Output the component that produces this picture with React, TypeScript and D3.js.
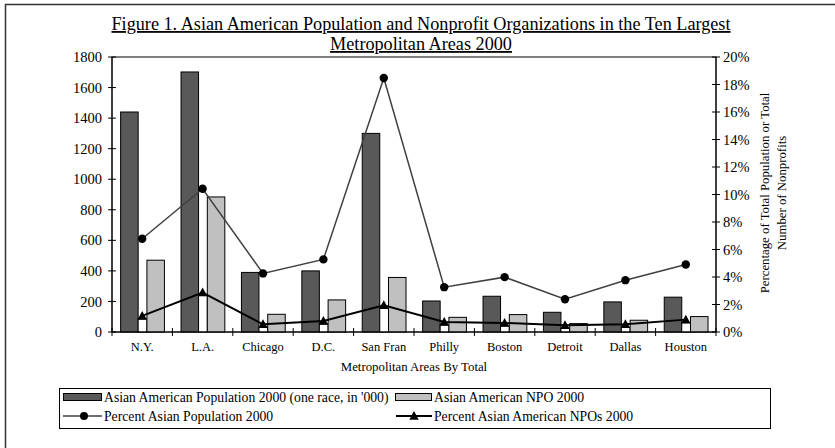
import React from "react";
import * as d3 from "d3";

const categories = ["N.Y.", "L.A.", "Chicago", "D.C.", "San Fran", "Philly", "Boston", "Detroit", "Dallas", "Houston"];
const asianPop = [1440, 1702, 390, 400, 1300, 203, 234, 129, 197, 228];
const asianNPO = [470, 884, 116, 210, 357, 96, 114, 55, 77, 101];
const pctAsianPop = [6.78, 10.42, 4.26, 5.28, 18.47, 3.26, 3.99, 2.38, 3.77, 4.91];
const pctAsianNPO = [1.17, 2.87, 0.56, 0.8, 1.95, 0.73, 0.66, 0.49, 0.56, 0.9];
const leftTicks = [0, 200, 400, 600, 800, 1000, 1200, 1400, 1600, 1800];
const rightTicks = [0, 2, 4, 6, 8, 10, 12, 14, 16, 18, 20];

const W = 835, H = 448;
const M = { left: 112, right: 716, top: 57, bottom: 332 };
const FONT = "'Liberation Serif', 'Times New Roman', serif";

export default function App() {
  const x = d3.scaleBand<string>().domain(categories).range([M.left, M.right]).padding(0);
  const yL = d3.scaleLinear().domain([0, 1800]).range([M.bottom, M.top]);
  const yR = d3.scaleLinear().domain([0, 20]).range([M.bottom, M.top]);
  const bw = x.bandwidth();
  const barW = bw * 0.29;
  const off1 = bw * 0.143;
  const midW = bw * 0.145;
  const cx = (c: string) => (x(c) as number) + bw / 2;

  const popLine = d3.line<number>().x((_, i) => cx(categories[i])).y((d) => yR(d));
  const npoLine = d3.line<number>().x((_, i) => cx(categories[i])).y((d) => yR(d));

  const tri = (px: number, py: number, s: number) =>
    `M${px},${py - s} L${px + s * 0.95},${py + s * 0.75} L${px - s * 0.95},${py + s * 0.75} Z`;

  return (
    <svg width={W} height={H} style={{ position: "absolute", left: 0, top: 0, background: "#fff" }} fontFamily={FONT}>
      <rect x={0} y={0} width={W} height={H} fill="#fff" />
      <rect x={5.5} y={4.5} width={W + 20} height={H + 20} fill="none" stroke="#333" strokeWidth={1.5} />
      {/* Title */}
      <text x={421} y={30} textAnchor="middle" fontSize={18.2} textDecoration="underline">
        Figure 1. Asian American Population and Nonprofit Organizations in the Ten Largest
      </text>
      <text x={421} y={50} textAnchor="middle" fontSize={18.2} textDecoration="underline">
        Metropolitan Areas 2000
      </text>
      {/* plot border */}
      <rect x={M.left} y={M.top} width={M.right - M.left} height={M.bottom - M.top} fill="none" stroke="#000" strokeWidth={1} />
      {/* bars */}
      {categories.map((c, i) => {
        const x0 = x(c) as number;
        return (
          <g key={c}>
            <rect x={x0 + off1} y={yL(asianPop[i])} width={barW} height={M.bottom - yL(asianPop[i])} fill="#595959" stroke="#000" strokeWidth={1} />
            <rect x={x0 + off1 + barW} y={yR(pctAsianNPO[i]) + 3} width={midW} height={M.bottom - yR(pctAsianNPO[i]) - 3} fill="#fff" stroke="#000" strokeWidth={1} />
            <rect x={x0 + off1 + barW + midW} y={yL(asianNPO[i])} width={barW} height={M.bottom - yL(asianNPO[i])} fill="#c0c0c0" stroke="#000" strokeWidth={1} />
          </g>
        );
      })}
      {/* left axis */}
      <line x1={M.left} x2={M.left} y1={M.top} y2={M.bottom} stroke="#000" />
      {leftTicks.map((t) => (
        <g key={t}>
          <line x1={M.left - 4} x2={M.left + 4} y1={yL(t)} y2={yL(t)} stroke="#000" />
          <text x={M.left - 10} y={yL(t)} dy="0.35em" textAnchor="end" fontSize={14.5}>{t}</text>
        </g>
      ))}
      {/* right axis */}
      <line x1={M.right} x2={M.right} y1={M.top} y2={M.bottom} stroke="#000" />
      {rightTicks.map((t) => (
        <g key={t}>
          <line x1={M.right - 4} x2={M.right + 4} y1={yR(t)} y2={yR(t)} stroke="#000" />
          <text x={M.right + 7} y={yR(t)} dy="0.35em" textAnchor="start" fontSize={14.5}>{t + "%"}</text>
        </g>
      ))}
      {/* x axis */}
      <line x1={M.left} x2={M.right} y1={M.bottom} y2={M.bottom} stroke="#000" />
      {categories.map((c) => (
        <line key={"t" + c} x1={x(c) as number} x2={x(c) as number} y1={M.bottom - 4} y2={M.bottom + 4} stroke="#000" />
      ))}
      <line x1={M.right} x2={M.right} y1={M.bottom - 4} y2={M.bottom + 4} stroke="#000" />
      {categories.map((c) => (
        <text key={"l" + c} x={cx(c)} y={347} dy="0.35em" textAnchor="middle" fontSize={12.5}>{c}</text>
      ))}
      <text x={(M.left + M.right) / 2} y={367} dy="0.35em" textAnchor="middle" fontSize={12.8}>Metropolitan Areas By Total</text>
      {/* right axis title */}
      <g transform={`translate(765, 193) rotate(-90)`}>
        <text x={0} y={0} textAnchor="middle" fontSize={12.8} dy="0.35em">Percentage of Total Population or Total</text>
        <text x={0} y={16.5} textAnchor="middle" fontSize={12.8} dy="0.35em">Number of Nonprofits</text>
      </g>
      {/* lines */}
      <path d={popLine(pctAsianPop) || ""} fill="none" stroke="#404040" strokeWidth={1.5} />
      {pctAsianPop.map((v, i) => (
        <circle key={"c" + i} cx={cx(categories[i])} cy={yR(v)} r={4.2} fill="#000" />
      ))}
      <path d={npoLine(pctAsianNPO) || ""} fill="none" stroke="#000" strokeWidth={2} />
      {pctAsianNPO.map((v, i) => (
        <path key={"tr" + i} d={tri(cx(categories[i]), yR(v), 5)} fill="#000" />
      ))}
      {/* legend */}
      <rect x={59.5} y={388.5} width={711} height={40} fill="#fff" stroke="#000" strokeWidth={1} />
      <rect x={63.5} y={393.5} width={38} height={7} fill="#595959" stroke="#000" />
      <text x={104} y={397} dy="0.35em" fontSize={13.7}>Asian American Population 2000 (one race, in '000)</text>
      <rect x={395.5} y={393.5} width={36} height={7} fill="#c0c0c0" stroke="#000" />
      <text x={434} y={397} dy="0.35em" fontSize={13.7}>Asian American NPO 2000</text>
      <line x1={63} x2={102} y1={416} y2={416} stroke="#404040" strokeWidth={1.5} />
      <circle cx={84} cy={416} r={4} fill="#000" />
      <text x={104} y={416} dy="0.35em" fontSize={13.7}>Percent Asian Population 2000</text>
      <line x1={396} x2={432} y1={416} y2={416} stroke="#000" strokeWidth={2} />
      <path d={tri(414, 416, 5)} fill="#000" />
      <text x={434} y={416} dy="0.35em" fontSize={13.7}>Percent Asian American NPOs 2000</text>
    </svg>
  );
}
